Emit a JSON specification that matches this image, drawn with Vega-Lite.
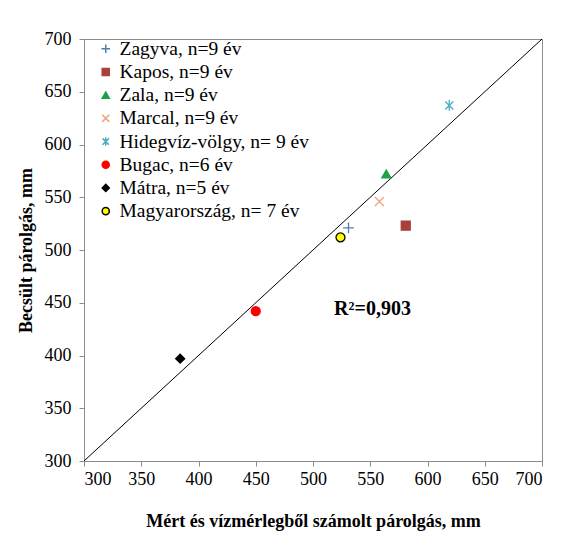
{
  "$schema": "https://vega.github.io/schema/vega-lite/v6.json",
  "width": 458,
  "height": 422,
  "autosize": {"type": "none"},
  "padding": {"left": 84, "top": 39, "right": 27, "bottom": 72},
  "background": "white",
  "config": {
    "font": "Liberation Serif",
    "view": {"stroke": "#8c8c8c", "strokeWidth": 1},
    "axis": {
      "grid": false,
      "domainColor": "#8c8c8c",
      "tickColor": "#8c8c8c",
      "tickSize": 5,
      "labelFont": "Liberation Serif",
      "labelFontSize": 18,
      "labelColor": "#000",
      "titleFont": "Liberation Serif",
      "titleFontSize": 18,
      "titleFontWeight": "bold",
      "titleColor": "#000"
    },
    "legend": {
      "labelFont": "Liberation Serif",
      "labelFontSize": 19.5,
      "labelColor": "#000",
      "symbolSize": 50,
      "rowPadding": 2.2,
      "labelOffset": 4,
      "labelLimit": 400
    }
  },
  "layer": [
    {
      "data": {"values": [{"a": 300, "b": 300}, {"a": 700, "b": 700}]},
      "mark": {"type": "line", "color": "#000", "strokeWidth": 1},
      "encoding": {
        "x": {"field": "a", "type": "quantitative"},
        "y": {"field": "b", "type": "quantitative"}
      }
    },
    {
      "data": {"values": [
        {"series": "Zagyva, n=9 év", "measured": 531, "estimated": 521},
        {"series": "Kapos, n=9 év", "measured": 581, "estimated": 523},
        {"series": "Zala, n=9 év", "measured": 564, "estimated": 572},
        {"series": "Marcal, n=9 év", "measured": 558, "estimated": 546},
        {"series": "Hidegvíz-völgy, n= 9 év", "measured": 619, "estimated": 637},
        {"series": "Bugac, n=6 év", "measured": 450, "estimated": 442},
        {"series": "Mátra, n=5 év", "measured": 384, "estimated": 397},
        {"series": "Magyarország, n= 7 év", "measured": 524, "estimated": 512}
      ]},
      "mark": {"type": "point", "size": 80, "strokeWidth": 1.3, "opacity": 1},
      "encoding": {
        "x": {
          "field": "measured", "type": "quantitative",
          "scale": {"domain": [300, 700], "nice": false, "zero": false},
          "axis": {"values": [300, 350, 400, 450, 500, 550, 600, 650, 700], "labelPadding": 4, "title": "Mért és vízmérlegből számolt párolgás, mm", "titlePadding": 24}
        },
        "y": {
          "field": "estimated", "type": "quantitative",
          "scale": {"domain": [300, 700], "nice": false, "zero": false},
          "axis": {"values": [300, 350, 400, 450, 500, 550, 600, 650, 700], "labelPadding": 8, "title": "Becsült párolgás, mm", "titlePadding": 9}
        },
        "shape": {
          "field": "series", "type": "nominal", "sort": null,
          "scale": {
            "domain": ["Zagyva, n=9 év", "Kapos, n=9 év", "Zala, n=9 év", "Marcal, n=9 év", "Hidegvíz-völgy, n= 9 év", "Bugac, n=6 év", "Mátra, n=5 év", "Magyarország, n= 7 év"],
            "range": ["M-1.2,0H1.2M0,-1.2V1.2", "square", "triangle-up", "M-1,-1L1,1M-1,1L1,-1", "M-0.9,-0.9L0.9,0.9M-0.9,0.9L0.9,-0.9M0,-1.2V1.2", "circle", "diamond", "circle"]
          },
          "legend": {"orient": "none", "legendX": 12, "legendY": 0, "title": null}
        },
        "stroke": {
          "field": "series", "type": "nominal", "sort": null,
          "scale": {
            "domain": ["Zagyva, n=9 év", "Kapos, n=9 év", "Zala, n=9 év", "Marcal, n=9 év", "Hidegvíz-völgy, n= 9 év", "Bugac, n=6 év", "Mátra, n=5 év", "Magyarország, n= 7 év"],
            "range": ["#4F7FAF", "#A8403C", "#1FA04A", "#EFA57A", "#4AACC6", "#FF0000", "#000000", "#000000"]
          },
          "legend": {"orient": "none", "legendX": 12, "legendY": 0, "title": null}
        },
        "fill": {
          "field": "series", "type": "nominal", "sort": null,
          "scale": {
            "domain": ["Zagyva, n=9 év", "Kapos, n=9 év", "Zala, n=9 év", "Marcal, n=9 év", "Hidegvíz-völgy, n= 9 év", "Bugac, n=6 év", "Mátra, n=5 év", "Magyarország, n= 7 év"],
            "range": ["transparent", "#A8403C", "#1FA04A", "transparent", "transparent", "#FF0000", "#000000", "#FFFF00"]
          },
          "legend": {"orient": "none", "legendX": 12, "legendY": 0, "title": null}
        }
      }
    },
    {
      "data": {"values": [{"label": "R²=0,903"}]},
      "mark": {"type": "text", "font": "Liberation Serif", "fontSize": 20, "fontWeight": "bold", "color": "#000"},
      "encoding": {
        "text": {"field": "label", "type": "nominal"},
        "x": {"datum": 552},
        "y": {"datum": 444}
      }
    }
  ]
}
